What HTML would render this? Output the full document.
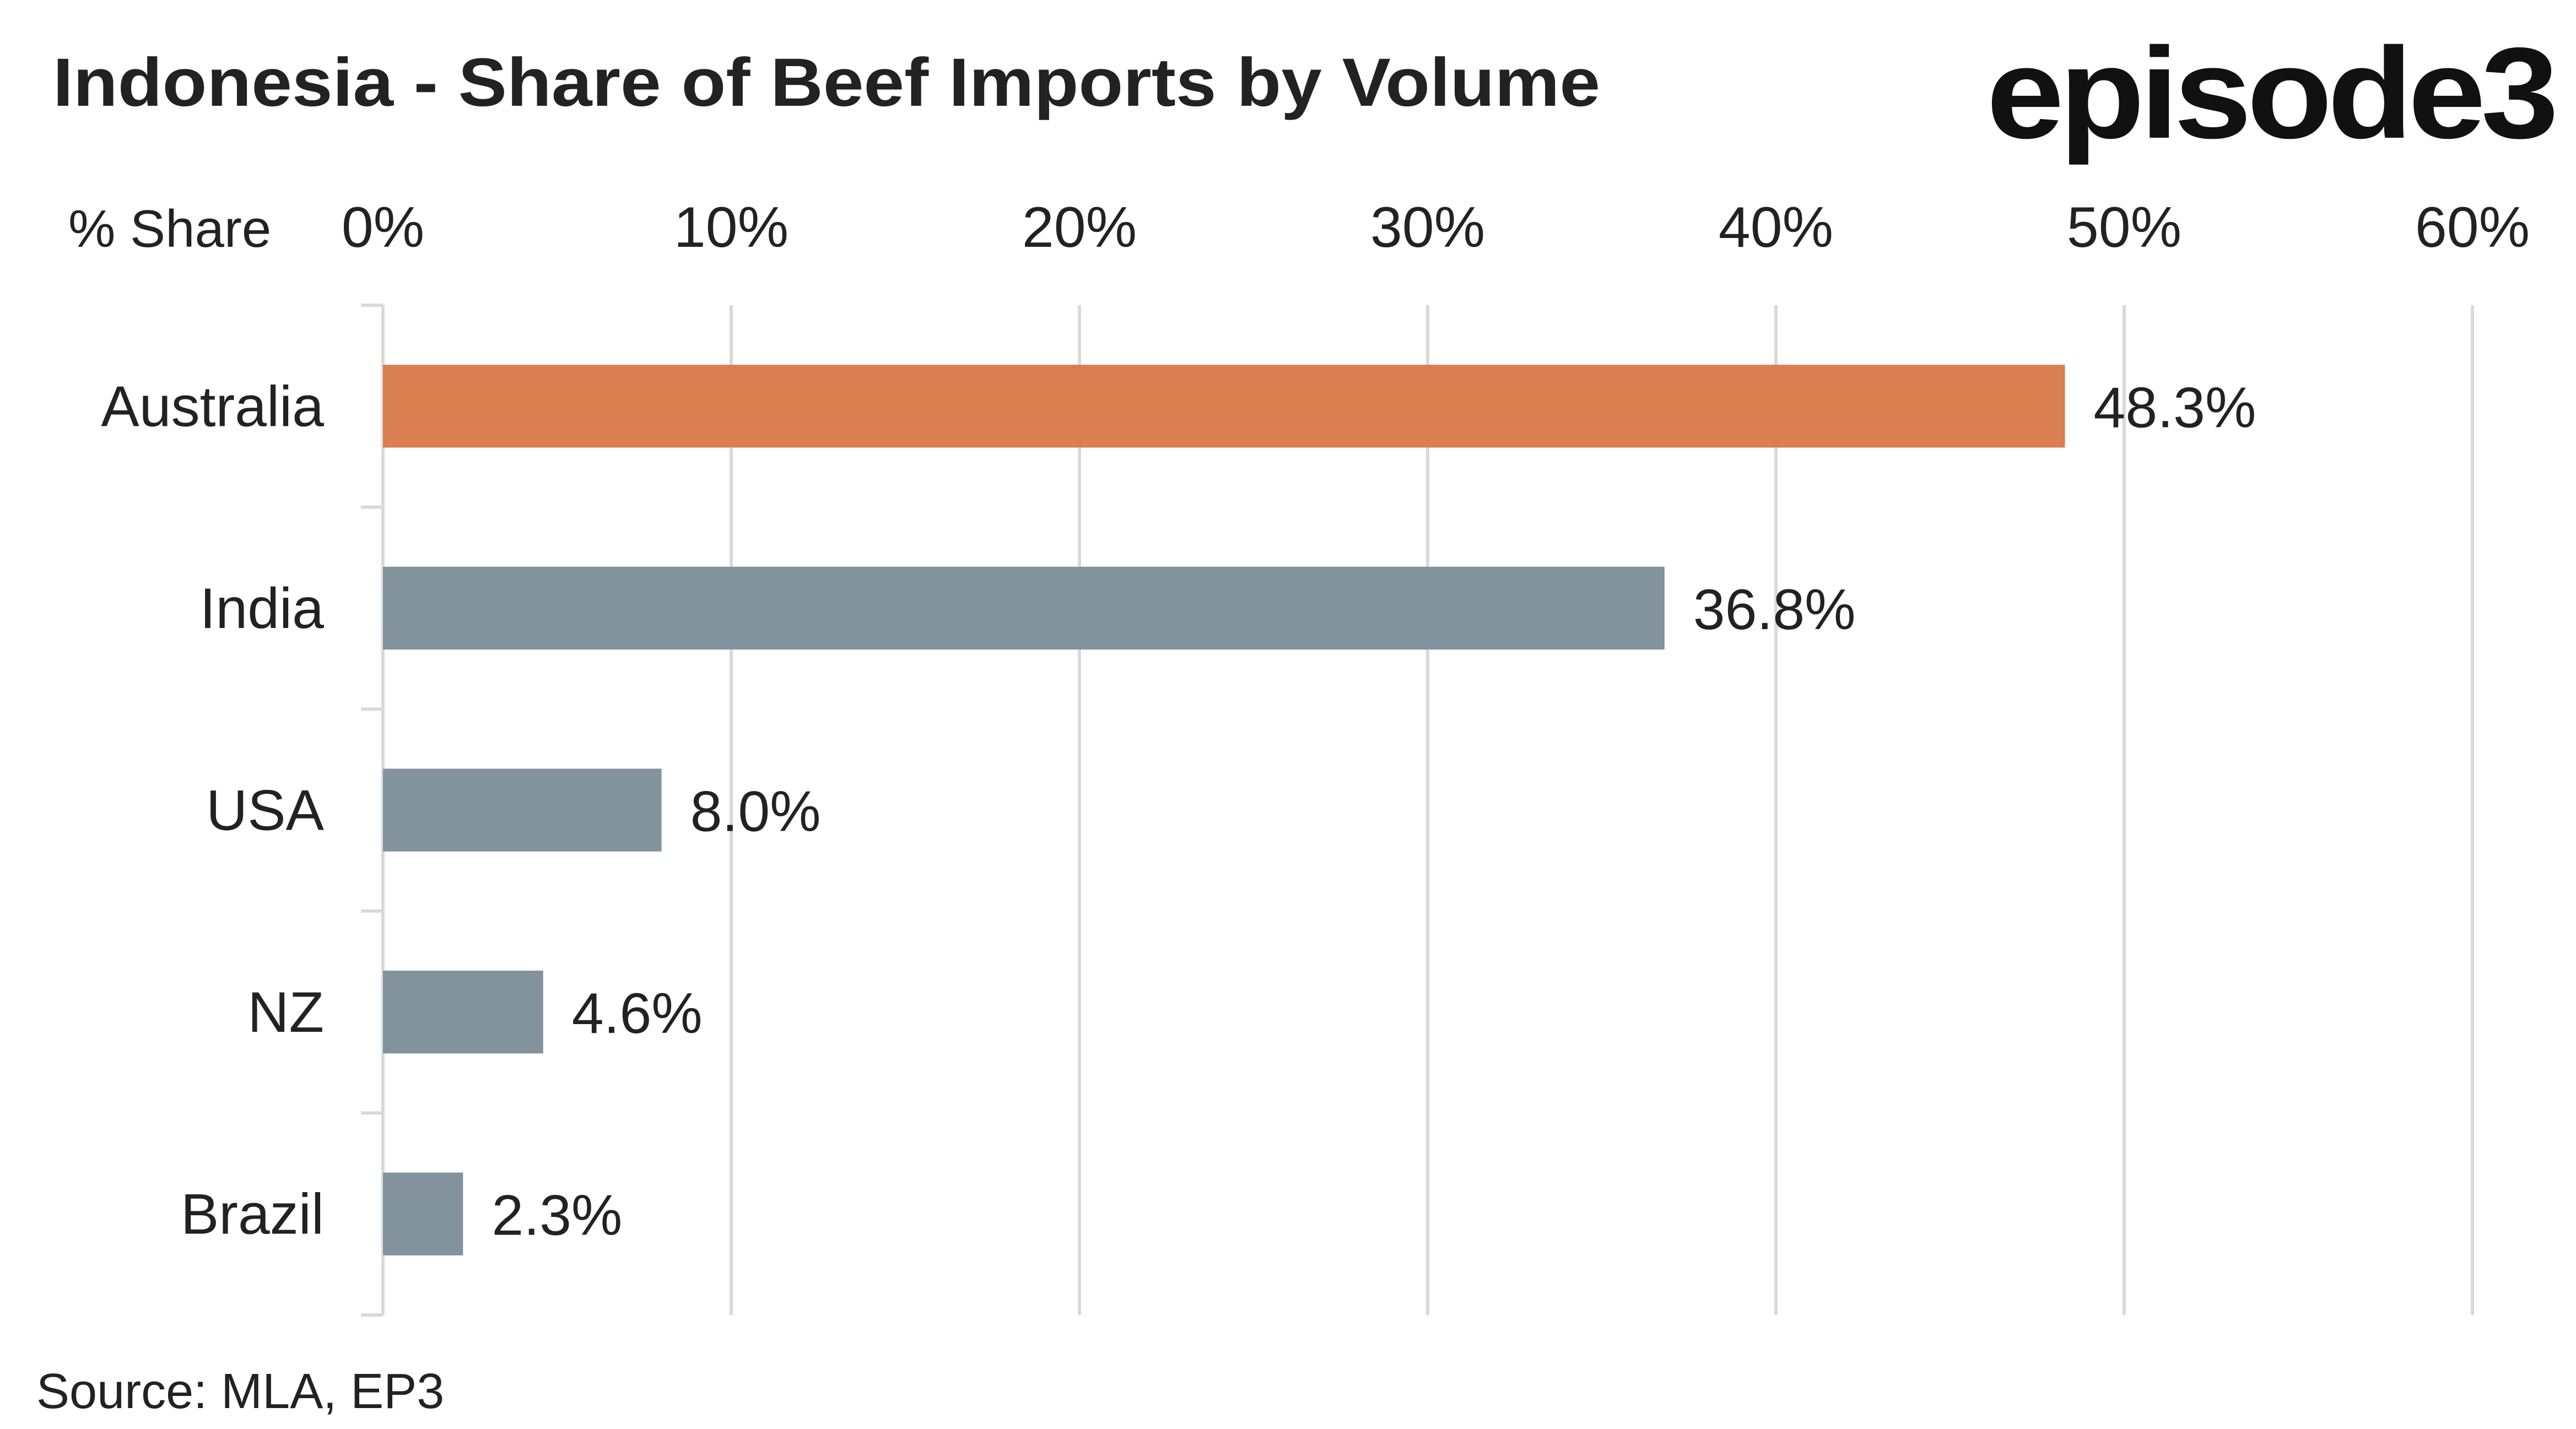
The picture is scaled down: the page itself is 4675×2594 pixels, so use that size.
<!DOCTYPE html>
<html><head><meta charset="utf-8"><style>
html,body{margin:0;padding:0;background:#fff;}
svg{display:block;font-family:"Liberation Sans",sans-serif;}
</style></head><body>
<svg id="chart" width="4675" height="2594" viewBox="0 0 4675 2594" xmlns="http://www.w3.org/2000/svg">
<text x="96" y="192" font-size="124" font-weight="bold" fill="#222" textLength="2808" lengthAdjust="spacingAndGlyphs">Indonesia - Share of Beef Imports by Volume</text>
<text x="3605" y="250" font-size="235" font-weight="bold" fill="#111" textLength="1030" lengthAdjust="spacingAndGlyphs" letter-spacing="-8">episode3</text>
<text x="124" y="448" font-size="96" fill="#222">% Share</text>
<g id="grid"></g><g id="bars"></g><g id="labels"></g>
<text x="66" y="2556" font-size="90" fill="#222">Source: MLA, EP3</text>
</svg>
<script>
const categories = ["Australia","India","USA","NZ","Brazil"];
const values = [48.3,36.8,8.0,4.6,2.3];
const ticks = [0,10,20,30,40,50,60];
const tickLabels = ["0%","10%","20%","30%","40%","50%","60%"];
const NS="http://www.w3.org/2000/svg";
const x0=695, pxPer=63.2, yTop=554, yBottom=2387;
const band=(yBottom-yTop)/categories.length;
const xs=v=>x0+v*pxPer;
const yc=i=>yTop+band*(i+0.5);
function mk(t,a,p){const e=document.createElementNS(NS,t);for(const k in a)e.setAttribute(k,a[k]);p.appendChild(e);return e;}
const grid=document.getElementById('grid'),bars=document.getElementById('bars'),labels=document.getElementById('labels');
ticks.forEach((t,i)=>{
  const l=mk('line',{x1:xs(t),x2:xs(t),y1:yTop,y2:yBottom,stroke:'#d9d9d9','stroke-width':6},grid);
  
  
  const tx=mk('text',{x:xs(t),y:448,'font-size':104,fill:'#222','text-anchor':'middle'},labels);
  tx.textContent=tickLabels[i];
  
  
});
for(let i=0;i<=categories.length;i++){
  const y=yTop+band*i;
  const tk=mk('line',{x1:655,x2:x0,y1:y,y2:y,stroke:'#d9d9d9','stroke-width':6},grid);
  
  
}
categories.forEach((c,i)=>{
  const h=band*0.41;
  const r=mk('rect',{x:x0,y:yc(i)-h/2,width:xs(values[i])-x0,height:h,fill:i===0?'#D97F50':'#82939E'},bars);
  
  
  const cl=mk('text',{x:588,y:yc(i)+36,'font-size':104,fill:'#222','text-anchor':'end'},labels);
  cl.textContent=c;
  
  
  const vl=mk('text',{x:xs(values[i])+52,y:yc(i)+38,'font-size':104,fill:'#222'},labels);
  vl.textContent=values[i].toFixed(1)+'%';
  
  
});
</script>
</body></html>
